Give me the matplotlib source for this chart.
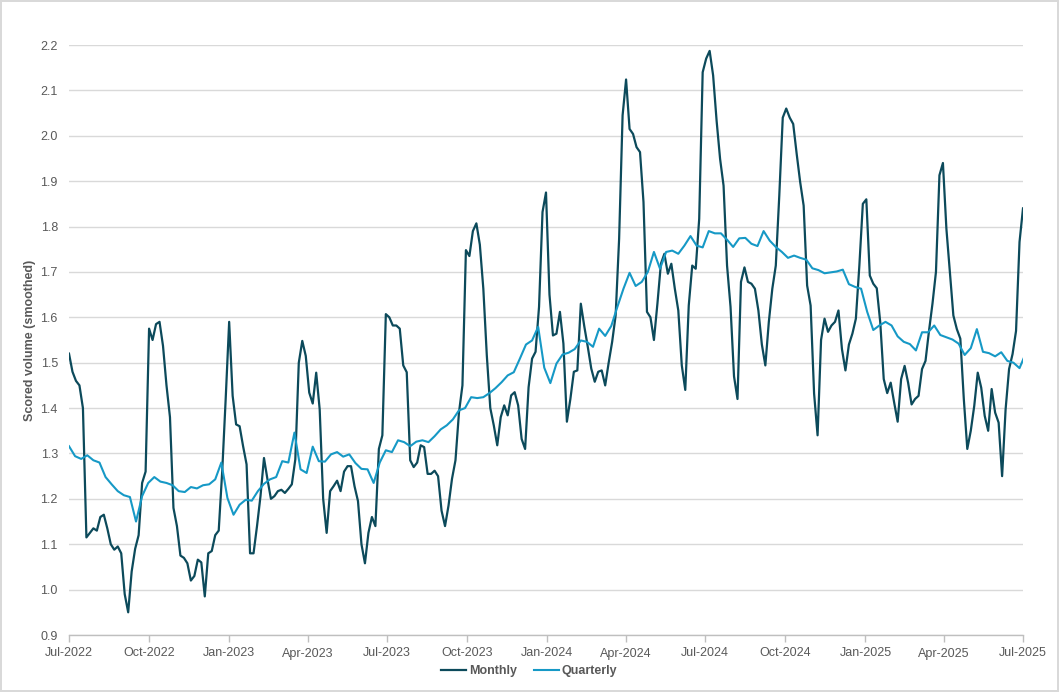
import matplotlib
matplotlib.use("Agg")
import matplotlib.pyplot as plt
import matplotlib.dates as mdates
import pandas as pd

plt.rcParams['font.family'] = ['Liberation Sans', 'DejaVu Sans']

# ---- data ----
monthly_dates = pd.date_range('2022-07-01', periods=275, freq='4D')
monthly = [
    1.52, 1.48, 1.46, 1.45, 1.40, 1.115, 1.125, 1.135, 1.13, 1.16,
    1.165, 1.135, 1.10, 1.088, 1.095, 1.08, 0.99, 0.95, 1.04, 1.09,
    1.12, 1.235, 1.26, 1.575, 1.55, 1.585, 1.59, 1.537, 1.45, 1.38,
    1.18, 1.14, 1.075, 1.07, 1.058, 1.02, 1.03, 1.066, 1.06, 0.985,
    1.08, 1.085, 1.12, 1.13, 1.26, 1.42, 1.59, 1.427, 1.364, 1.36,
    1.316, 1.276, 1.08, 1.08, 1.14, 1.206, 1.29, 1.243, 1.20, 1.206,
    1.217, 1.22, 1.213, 1.222, 1.232, 1.287, 1.50, 1.548, 1.515, 1.434,
    1.41, 1.478, 1.397, 1.20, 1.125, 1.217, 1.228, 1.24, 1.217, 1.26,
    1.272, 1.272, 1.228, 1.195, 1.10, 1.058, 1.125, 1.16, 1.14, 1.31,
    1.34, 1.607, 1.60, 1.582, 1.582, 1.575, 1.494, 1.479, 1.285, 1.27,
    1.28, 1.318, 1.314, 1.255, 1.255, 1.262, 1.25, 1.174, 1.14, 1.185,
    1.244, 1.285, 1.39, 1.45, 1.748, 1.735, 1.79, 1.807, 1.76, 1.663,
    1.516, 1.40, 1.362, 1.318, 1.38, 1.406, 1.384, 1.428, 1.435, 1.406,
    1.332, 1.31, 1.446, 1.509, 1.524, 1.623, 1.832, 1.875, 1.65, 1.56,
    1.564, 1.612, 1.542, 1.37, 1.42, 1.48, 1.483, 1.63, 1.58, 1.535,
    1.487, 1.458, 1.48, 1.483, 1.45, 1.50, 1.546, 1.604, 1.773, 2.045,
    2.124, 2.015, 2.004, 1.975, 1.964, 1.854, 1.612, 1.60, 1.55, 1.63,
    1.718, 1.74, 1.696, 1.718, 1.663, 1.615, 1.494, 1.44, 1.626, 1.714,
    1.707, 1.817, 2.14, 2.17, 2.187, 2.133, 2.033, 1.949, 1.89, 1.714,
    1.623, 1.47, 1.42, 1.678, 1.71, 1.678, 1.674, 1.663, 1.615, 1.54,
    1.494, 1.59, 1.663, 1.714, 1.868, 2.04, 2.06, 2.04, 2.026, 1.96,
    1.898, 1.846, 1.67, 1.626, 1.432, 1.34, 1.55, 1.597, 1.568, 1.582,
    1.59, 1.615, 1.53, 1.483, 1.54, 1.564, 1.597, 1.714, 1.85, 1.86,
    1.692, 1.674, 1.664, 1.589, 1.464, 1.433, 1.456, 1.412, 1.37, 1.464,
    1.493, 1.456, 1.408, 1.42, 1.427, 1.486, 1.504, 1.57, 1.63, 1.70,
    1.913, 1.94, 1.795, 1.70, 1.604, 1.574, 1.553, 1.42, 1.31, 1.35,
    1.405, 1.478, 1.445, 1.383, 1.35, 1.442, 1.39, 1.368, 1.25, 1.397,
    1.486, 1.519, 1.57, 1.766, 1.84,
]

quarterly_dates = pd.date_range('2022-07-01', periods=158, freq='7D')
quarterly = [
    1.316, 1.294, 1.288, 1.296, 1.285, 1.28, 1.248, 1.232, 1.217, 1.208,
    1.204, 1.15, 1.206, 1.235, 1.248, 1.238, 1.235, 1.23, 1.217, 1.215,
    1.226, 1.223, 1.23, 1.232, 1.243, 1.28, 1.202, 1.165, 1.187, 1.198,
    1.196, 1.217, 1.233, 1.243, 1.248, 1.283, 1.28, 1.346, 1.265, 1.257,
    1.315, 1.283, 1.282, 1.298, 1.303, 1.293, 1.298, 1.279, 1.266, 1.265,
    1.235, 1.28, 1.307, 1.303, 1.329, 1.325, 1.316, 1.326, 1.329, 1.325,
    1.338, 1.353, 1.362, 1.375, 1.395, 1.40, 1.424, 1.422, 1.424, 1.433,
    1.444, 1.457, 1.472, 1.479, 1.509, 1.54, 1.549, 1.579, 1.489, 1.455,
    1.498, 1.518, 1.522, 1.53, 1.549, 1.546, 1.535, 1.575, 1.559, 1.581,
    1.623, 1.663, 1.698, 1.669, 1.678, 1.70, 1.744, 1.707, 1.744, 1.747,
    1.74, 1.758, 1.779, 1.758, 1.754, 1.79, 1.785, 1.785, 1.771, 1.755,
    1.774, 1.775, 1.762, 1.757, 1.79, 1.769, 1.755, 1.744, 1.731, 1.736,
    1.731, 1.727, 1.708, 1.704, 1.697, 1.699, 1.701, 1.705, 1.673, 1.667,
    1.663, 1.612, 1.572, 1.582, 1.59, 1.582, 1.558, 1.546, 1.541, 1.527,
    1.567, 1.567, 1.582, 1.561, 1.556, 1.551, 1.542, 1.517, 1.532, 1.574,
    1.524, 1.521, 1.514, 1.523, 1.504, 1.50, 1.488, 1.52,
]

y_ticks = [0.9, 1.0, 1.1, 1.2, 1.3, 1.4, 1.5, 1.6, 1.7, 1.8, 1.9, 2.0, 2.1, 2.2]
x_ticks = pd.date_range('2022-07-01', '2025-07-01', freq='3MS')

# ---- figure ----
fig = plt.figure(figsize=(10.59, 6.92), dpi=100, edgecolor='#D9D9D9', linewidth=1.5)
ax = fig.add_axes([69/1059, 1 - 635/692, (1023 - 69)/1059, (635 - 45)/692])

text_col = '#595959'
ax.plot(monthly_dates, monthly, color='#0C4A5B', lw=1.6, label='Monthly', zorder=3)
ax.plot(quarterly_dates, quarterly, color='#1699C6', lw=1.5, label='Quarterly', zorder=4)

ax.set_xlim(pd.Timestamp('2022-07-01'), pd.Timestamp('2025-07-01'))
ax.set_ylim(0.9, 2.2)
ax.set_yticks(y_ticks)
ax.set_yticklabels([f'{v:.1f}' for v in y_ticks])
ax.set_xticks(x_ticks)
ax.xaxis.set_major_formatter(mdates.DateFormatter('%b-%Y'))

ax.grid(axis='y', color='#D9D9D9', lw=1)
ax.set_axisbelow(True)
for s in ['top', 'right', 'left']:
    ax.spines[s].set_visible(False)
ax.spines['bottom'].set_color('#BFBFBF')
ax.spines['bottom'].set_linewidth(1)
ax.tick_params(axis='y', length=0, pad=8, labelsize=9, labelcolor=text_col)
ax.tick_params(axis='x', length=5, width=1, color='#BFBFBF', pad=4,
               labelsize=9, labelcolor=text_col, direction='out')

ax.set_ylabel('Scored volume (smoothed)', fontsize=9, fontweight='bold', color=text_col, labelpad=3)

leg = fig.legend(loc='center', bbox_to_anchor=(0.5, 1 - 671/692), ncol=2, frameon=False,
                 fontsize=9, handlelength=2.0, columnspacing=1.3, handletextpad=0.25)
for t in leg.get_texts():
    t.set_color(text_col)
    t.set_fontweight('bold')

fig.savefig('out.png', dpi=100)
